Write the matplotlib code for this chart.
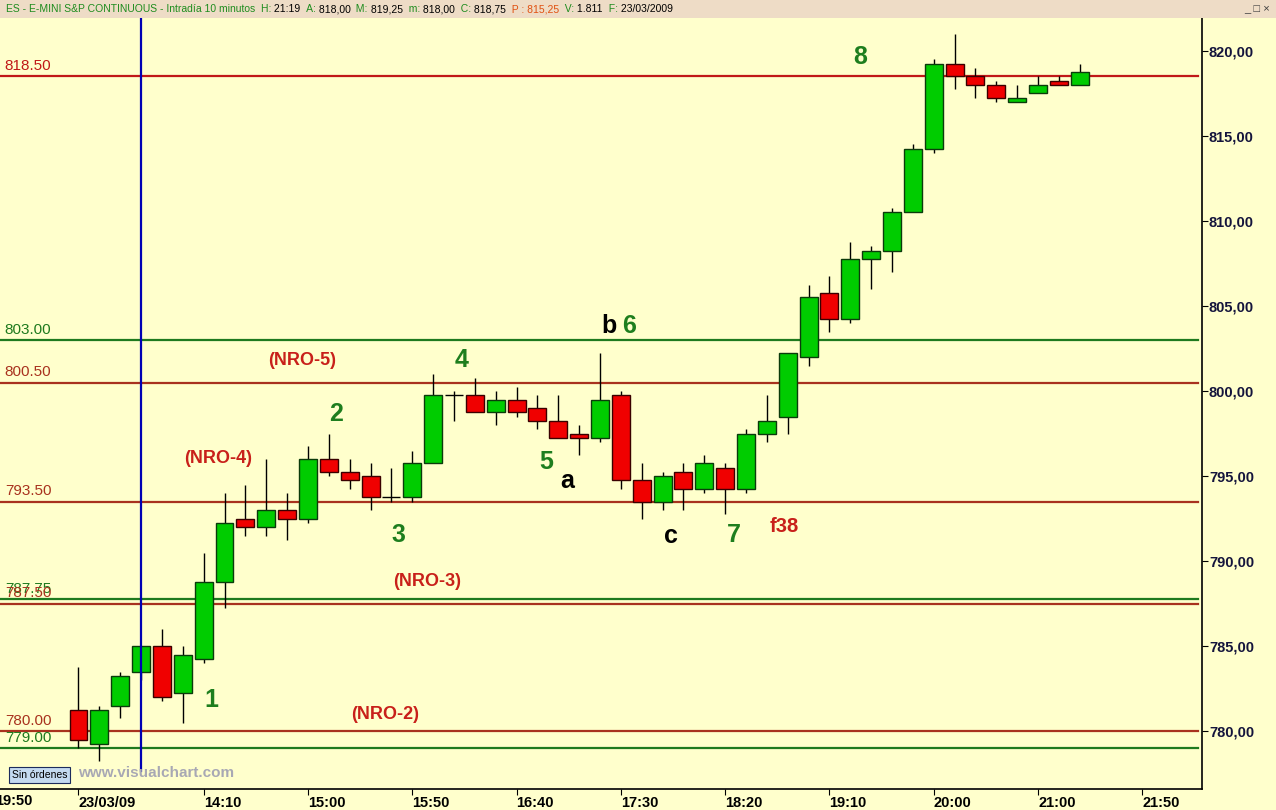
import matplotlib
matplotlib.use("Agg")
import matplotlib.pyplot as plt
from matplotlib.patches import Rectangle
from matplotlib.offsetbox import TextArea, HPacker, AnnotationBbox
import numpy as np

plt.rcParams["font.family"] = ["Liberation Sans", "DejaVu Sans"]

# ── ES e-mini, 10 minute bars, 23/03/2009 ─────────────────────────────
opens  = [781.25, 779.25, 781.5, 783.5, 785.0, 782.25, 784.25, 788.75, 792.5, 792.0,
          793.0, 792.5, 796.0, 795.25, 795.0, 793.75, 793.75, 795.75, 799.75, 799.75,
          798.75, 799.5, 799.0, 798.25, 797.5, 797.25, 799.75, 794.75, 793.5, 795.25,
          794.25, 795.5, 794.25, 797.5, 798.5, 802.0, 805.75, 804.25, 807.75, 808.25,
          810.5, 814.25, 819.25, 818.5, 818.0, 817.0, 817.5, 818.25, 818.0]
highs  = [783.75, 781.5, 783.5, 785.0, 786.0, 785.0, 790.5, 794.0, 794.5, 796.0,
          794.0, 796.75, 797.5, 796.0, 795.75, 795.5, 796.5, 801.0, 800.0, 800.75,
          800.0, 800.25, 799.75, 799.75, 798.0, 802.25, 800.0, 795.75, 795.25, 795.75,
          796.25, 795.75, 797.75, 799.75, 802.25, 806.25, 806.75, 808.75, 808.5, 810.75,
          814.5, 819.5, 821.0, 819.0, 818.25, 818.0, 818.5, 818.5, 819.25]
lows   = [779.0, 778.25, 780.75, 783.0, 781.75, 780.5, 784.0, 787.25, 791.5, 791.5,
          791.25, 792.25, 795.0, 794.25, 793.0, 793.5, 793.5, 795.75, 798.25, 798.75,
          798.0, 798.5, 797.75, 797.25, 796.25, 797.0, 794.25, 792.5, 793.0, 793.0,
          794.0, 792.75, 794.0, 797.0, 797.5, 801.5, 803.5, 804.0, 806.0, 807.0,
          810.5, 814.0, 817.75, 817.25, 817.0, 817.0, 817.5, 818.0, 818.0]
closes = [779.5, 781.25, 783.25, 785.0, 782.0, 784.5, 788.75, 792.25, 792.0, 793.0,
          792.5, 796.0, 795.25, 794.75, 793.75, 793.75, 795.75, 799.75, 799.75, 798.75,
          799.5, 798.75, 798.25, 797.25, 797.25, 799.5, 794.75, 793.5, 795.0, 794.25,
          795.75, 794.25, 797.5, 798.25, 802.25, 805.5, 804.25, 807.75, 808.25, 810.5,
          814.25, 819.25, 818.5, 818.0, 817.25, 817.25, 818.0, 818.0, 818.75]

tick_bars   = [0, 6, 11, 16, 21, 26, 31, 36, 41, 46, 51]
tick_labels = ["23/03/09", "14:10", "15:00", "15:50", "16:40", "17:30",
               "18:20", "19:10", "20:00", "21:00", "21:50"]

level_prices = [818.5, 803.0, 800.5, 793.5, 787.75, 787.5, 780.0, 779.0]
level_labels = ["818.50", "803.00", "800.50", "793.50", "787.75", "787.50", "780.00", "779.00"]
level_kinds  = ["r", "g", "b", "b", "g", "b", "b", "g"]

ann_texts = ["1", "2", "3", "4", "5", "6", "7", "8", "a", "b", "c",
             "(NRO-2)", "(NRO-3)", "(NRO-4)", "(NRO-5)", "f38"]
ann_bar   = [6.35, 12.34, 15.36, 18.34, 22.41, 26.39, 31.42, 37.46, 23.42, 25.43, 28.4,
             14.69, 16.71, 6.69, 10.71, 33.82]
ann_price = [781.8, 798.65, 791.55, 801.8, 795.85, 803.8, 791.55, 819.65, 794.7, 803.8, 791.45,
             781.0, 788.8, 796.05, 801.8, 792.05]

BG = "#FFFFCC"
LEVEL_COL = {"r": "#C01818", "b": "#A8321E", "g": "#1E7A1E"}
ANN_COL = {"num": "#1E7E1E", "let": "black", "nro": "#C8201A"}

W, H = 1276, 810
fig = plt.figure(figsize=(W / 100, H / 100), dpi=100)
fig.patch.set_facecolor(BG)
ax = fig.add_axes([0, 1 - 789 / H, 1202 / W, (789 - 18) / H])
ax.set_facecolor(BG)

x = np.arange(len(opens))
o, h, l, c = map(np.array, (opens, highs, lows, closes))
up = c >= o

# wicks
ax.vlines(x, l, h, color="black", lw=1, zorder=2)
# bodies
bottom = np.minimum(o, c)
height = np.abs(c - o)
flat = height == 0
ax.bar(x[up & ~flat], height[up & ~flat], bottom=bottom[up & ~flat], width=0.86,
       color="#00CC00", edgecolor="#0B3B0B", lw=1, zorder=3)
ax.bar(x[~up], height[~up], bottom=bottom[~up], width=0.86,
       color="#F00000", edgecolor="#3A0000", lw=1, zorder=3)
ax.hlines(o[flat], x[flat] - 0.43, x[flat] + 0.43, color="black", lw=1, zorder=3)

# horizontal levels
for p, lab, k in zip(level_prices, level_labels, level_kinds):
    col = LEVEL_COL[k]
    ax.axhline(p, xmax=0.997, color=col, lw=1.6, zorder=1)
    ax.text(0.004, p + 0.2, lab, transform=ax.get_yaxis_transform(),
            color=col, fontsize=11, va="bottom", ha="left")

# blue vertical marker
ax.axvline(3, ymin=0.023, color="#0000B4", lw=1.6, zorder=4)

# wave annotations
for t, bx, py in zip(ann_texts, ann_bar, ann_price):
    if t.startswith("("):
        col, fs = ANN_COL["nro"], 13
    elif t == "f38":
        col, fs = ANN_COL["nro"], 14.5
    elif t.isdigit():
        col, fs = ANN_COL["num"], 18
    else:
        col, fs = ANN_COL["let"], 18
    ax.text(bx, py, t, color=col, fontsize=fs, fontweight="bold",
            ha="center", va="center", zorder=5)

ax.set_xlim(-3.763, 53.86)
ax.set_ylim(776.59, 821.94)

# axes styling
for side in ("left", "top"):
    ax.spines[side].set_visible(False)
ax.spines["right"].set_linewidth(1.2)
ax.spines["bottom"].set_linewidth(1.2)

ax.yaxis.tick_right()
yt = np.arange(780, 821, 5)
ax.set_yticks(yt)
ax.set_yticklabels([f"{v:.2f}".replace(".", ",") for v in yt])
ax.tick_params(axis="y", direction="out", length=4, pad=1, labelsize=10.5,
               labelcolor="#14143C")
for lbl in ax.get_yticklabels():
    lbl.set_fontweight("bold")

ax.set_xticks(tick_bars)
ax.set_xticklabels(tick_labels, ha="left")
ax.tick_params(axis="x", direction="out", length=4, pad=1, labelsize=10.5)
for lbl in ax.get_xticklabels():
    lbl.set_fontweight("bold")
ax.text(-4, -0.0065, "19:50", transform=ax.get_xaxis_transform(), ha="left", va="top",
        fontsize=10.5, fontweight="bold", clip_on=False)

# title bar
fig.patches.append(Rectangle((0, 1 - 18 / H), 1, 18 / H, transform=fig.transFigure,
                             facecolor="#EEDCC6", edgecolor="none", zorder=0))
pieces = [("ES - E-MINI S&P CONTINUOUS - Intradía 10 minutos  H:", "#1E8C1E"), (" 21:19", "black"),
          ("  A:", "#1E8C1E"), (" 818,00", "black"), ("  M:", "#1E8C1E"), (" 819,25", "black"),
          ("  m:", "#1E8C1E"), (" 818,00", "black"), ("  C:", "#1E8C1E"), (" 818,75", "black"),
          ("  P : 815,25", "#E05010"), ("  V:", "#1E8C1E"), (" 1.811", "black"),
          ("  F:", "#1E8C1E"), (" 23/03/2009", "black")]
box = HPacker(children=[TextArea(t, textprops=dict(color=col, fontsize=7.5)) for t, col in pieces],
              pad=0, sep=0, align="baseline")
fig.add_artist(AnnotationBbox(box, (6, H - 9), xycoords="figure pixels",
                              box_alignment=(0, 0.5), frameon=False, pad=0))
fig.text(1270 / W, 1 - 9 / H, "_ □ ×", ha="right", va="center", fontsize=8, color="#404040")

# footer
fig.text(12 / W, 1 - 775 / H, "Sin órdenes", fontsize=7.5, va="center", ha="left",
         bbox=dict(boxstyle="square,pad=0.25", fc="#C4DAF0", ec="#1C2C5C", lw=0.8))
fig.text(78 / W, 1 - 773 / H, "www.visualchart.com", fontsize=11, fontweight="bold",
         color="#A8A8B4", va="center", ha="left")

fig.savefig("out.png", dpi=100, facecolor=BG)
